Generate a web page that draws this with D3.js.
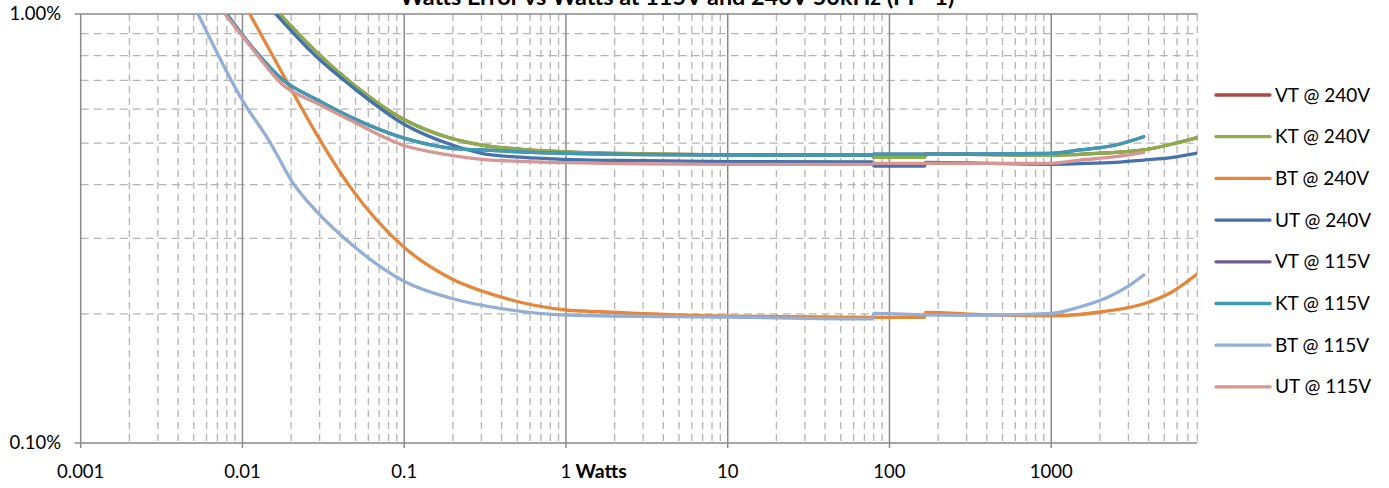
<!DOCTYPE html>
<html lang="en">
<head>
  <meta charset="UTF-8">
  <title>Watts Error vs Watts</title>
  <script src="https://d3js.org/d3.v7.min.js"></script>
  <style>
    body { margin: 0; background: #fff; }
    svg { display: block; font-family: Lato, "Open Sans", sans-serif; }
  </style>
</head>
<body>
  <svg id="chart" width="1389" height="488"></svg>
  <script>
    // axis ticks
    const xTicks = [0.001, 0.01, 0.1, 1, 10, 100, 1000];
    const xTickLabels = ["0.001", "0.01", "0.1", "1", "10", "100", "1000"];
    const yTicks = [0.1, 1];
    const yTickLabels = ["0.10%", "1.00%"];

    // [watts, error %]
    const vt240 = [[0.0170,1.00],[0.0287,0.815],[0.0462,0.695],[0.101,0.566],[0.192,0.514],[0.301,0.495],[0.55,0.483],[1,0.477],[3,0.472],[10,0.470],[78,0.469],[80,0.463],[165,0.463],[167,0.472],[1000,0.468],[1500,0.471],[2500,0.476],[3730,0.482],[5500,0.497],[8000,0.515]];
    const kt240 = [[0.0170,1.00],[0.0287,0.815],[0.0462,0.695],[0.101,0.566],[0.192,0.514],[0.301,0.495],[0.55,0.483],[1,0.477],[3,0.472],[10,0.470],[78,0.469],[80,0.463],[165,0.463],[167,0.472],[1000,0.468],[1500,0.471],[2500,0.476],[3730,0.482],[5500,0.497],[8000,0.515]];
    const bt240 = [[0.0111,1.00],[0.0196,0.677],[0.0287,0.525],[0.0462,0.396],[0.101,0.2848],[0.192,0.2424],[0.389,0.2193],[1,0.2042],[1.62,0.2023],[10,0.1975],[78,0.1963],[165,0.1963],[167,0.2016],[400,0.1990],[1000,0.1980],[1500,0.1993],[2000,0.2020],[3700,0.2109],[5430,0.2237],[8000,0.2477]];
    const ut240 = [[0.0161,1.00],[0.0287,0.795],[0.0462,0.683],[0.101,0.552],[0.192,0.497],[0.301,0.4735],[0.55,0.463],[1,0.4585],[3,0.455],[10,0.4526],[78,0.452],[80,0.442],[165,0.442],[167,0.451],[1000,0.4465],[1500,0.448],[2500,0.451],[3730,0.4565],[5500,0.4625],[8000,0.474]];
    const vt115 = [[0.0080,1.00],[0.0111,0.850],[0.0178,0.702],[0.0287,0.632],[0.0462,0.576],[0.101,0.513],[0.192,0.487],[0.301,0.482],[1,0.4735],[10,0.4692],[78,0.469],[80,0.471],[165,0.471],[1000,0.4735],[1500,0.482],[2500,0.495],[3730,0.5176]];
    const kt115 = [[0.0080,1.00],[0.0111,0.850],[0.0178,0.702],[0.0287,0.632],[0.0462,0.576],[0.101,0.513],[0.192,0.487],[0.301,0.482],[1,0.4735],[10,0.4692],[78,0.469],[80,0.471],[165,0.471],[1000,0.4735],[1500,0.482],[2500,0.495],[3730,0.5176]];
    const bt115 = [[0.00532,1.00],[0.0101,0.625],[0.0146,0.507],[0.0205,0.404],[0.0287,0.3467],[0.0462,0.2925],[0.101,0.2377],[0.192,0.2178],[0.389,0.206],[1,0.1988],[10,0.1965],[78,0.1946],[80,0.2005],[165,0.1990],[300,0.1985],[1000,0.2005],[1500,0.2075],[2200,0.2180],[3000,0.2320],[3730,0.2464]];
    const ut115 = [[0.0078,1.00],[0.0111,0.845],[0.0178,0.683],[0.0287,0.620],[0.0462,0.566],[0.101,0.493],[0.192,0.469],[0.301,0.4585],[1,0.4502],[10,0.4463],[78,0.446],[80,0.4487],[165,0.4487],[1000,0.4487],[1500,0.4565],[2500,0.465],[3730,0.476]];

    const seriesNames = ["VT @ 240V", "KT @ 240V", "BT @ 240V", "UT @ 240V", "VT @ 115V", "KT @ 115V", "BT @ 115V", "UT @ 115V"];
    const seriesData = [vt240, kt240, bt240, ut240, vt115, kt115, bt115, ut115];
    const seriesColors = ["#ad4744", "#8aae4c", "#e6863a", "#4672ac", "#6f5a96", "#3e9bb3", "#94aed6", "#d69694"];

    const margin = { left: 80.7, top: 14, right: 1197.3, bottom: 443 };
    const svg = d3.select("#chart");

    const x = d3.scaleLog().domain([0.001, 8000]).range([margin.left, margin.right]);
    const y = d3.scaleLog().domain([0.1, 1]).range([margin.bottom, margin.top]);

    svg.append("defs").append("clipPath").attr("id", "plot")
      .append("rect")
      .attr("x", margin.left).attr("y", margin.top)
      .attr("width", margin.right - margin.left).attr("height", margin.bottom - margin.top);

    // minor grid
    const isPow10 = v => Math.abs(Math.log10(v) - Math.round(Math.log10(v))) < 1e-9;
    const grid = svg.append("g");
    grid.selectAll(".xminor")
      .data(x.ticks().filter(v => !isPow10(v)))
      .join("line")
      .attr("x1", d => x(d)).attr("x2", d => x(d))
      .attr("y1", margin.top).attr("y2", margin.bottom)
      .attr("stroke", "#b4b4b4").attr("stroke-width", 1.3)
      .attr("stroke-dasharray", "7,5");
    grid.selectAll(".yminor")
      .data(y.ticks().filter(v => !isPow10(v)))
      .join("line")
      .attr("x1", margin.left).attr("x2", margin.right)
      .attr("y1", d => y(d)).attr("y2", d => y(d))
      .attr("stroke", "#b4b4b4").attr("stroke-width", 1.3)
      .attr("stroke-dasharray", "8,5");

    // major grid
    grid.selectAll(".xmajor")
      .data(xTicks)
      .join("line")
      .attr("x1", d => x(d)).attr("x2", d => x(d))
      .attr("y1", margin.top).attr("y2", margin.bottom + 5)
      .attr("stroke", "#8a8a8a").attr("stroke-width", 1.5);
    grid.selectAll(".ymajor")
      .data(yTicks)
      .join("line")
      .attr("x1", margin.left - 6).attr("x2", margin.right)
      .attr("y1", d => y(d)).attr("y2", d => y(d))
      .attr("stroke", "#8a8a8a").attr("stroke-width", 1.5);

    // tick labels
    svg.append("g")
      .selectAll("text")
      .data(yTicks)
      .join("text")
      .attr("x", 61).attr("y", d => y(d) + 6)
      .attr("text-anchor", "end")
      .attr("font-size", 18.5)
      .attr("fill", "#000")
      .text((d, i) => yTickLabels[i]);

    svg.append("g")
      .selectAll("text")
      .data(xTicks)
      .join("text")
      .attr("x", d => x(d)).attr("y", 478)
      .attr("text-anchor", "middle")
      .attr("font-size", 18.5)
      .attr("fill", "#000")
      .text((d, i) => xTickLabels[i]);

    svg.append("text")
      .attr("x", x(1) + 9.5).attr("y", 478)
      .attr("font-size", 19.5).attr("font-weight", "bold")
      .text("Watts");

    // title (cut at the top like the source), sized to the source width
    const title = svg.append("text")
      .attr("x", 677).attr("y", 5)
      .attr("text-anchor", "middle")
      .attr("font-size", 20).attr("font-weight", "bold")
      .text("Watts Error vs Watts at 115V and 240V 50kHz (PF=1)");
    const tw = title.node().getComputedTextLength();
    title.attr("font-size", 20 * 555 / tw);

    // series
    const line = d3.line()
      .x(d => x(d[0]))
      .y(d => y(d[1]))
      .curve(d3.curveMonotoneX);

    svg.append("g")
      .attr("clip-path", "url(#plot)")
      .selectAll("path")
      .data(seriesData)
      .join("path")
      .attr("d", line)
      .attr("fill", "none")
      .attr("stroke", (d, i) => seriesColors[i])
      .attr("stroke-width", 3.3)
      .attr("stroke-linecap", "round")
      .attr("stroke-linejoin", "round");

    // legend
    const legend = svg.append("g")
      .selectAll("g")
      .data(seriesNames)
      .join("g")
      .attr("transform", (d, i) => `translate(1216,${95 + i * 41.7})`);
    legend.append("line")
      .attr("x1", 0).attr("x2", 54)
      .attr("stroke", (d, i) => seriesColors[i])
      .attr("stroke-width", 3.3)
      .attr("stroke-linecap", "round");
    legend.append("text")
      .attr("x", 59).attr("y", 6.5)
      .attr("font-size", 19)
      .text(d => d);
  </script>
</body>
</html>
